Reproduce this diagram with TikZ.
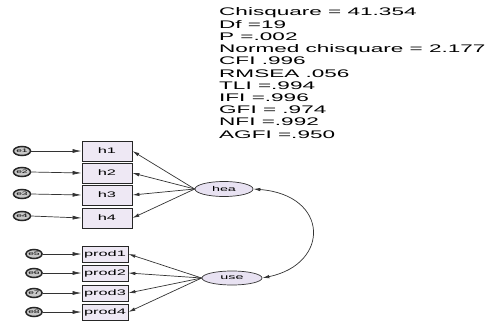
\documentclass[tikz,border=0pt]{standalone}
\usepackage{fontspec}
\setmainfont{Liberation Sans}
\usetikzlibrary{shapes.geometric,arrows.meta}
\definecolor{boxfill}{HTML}{EEE8F4}
\definecolor{ellfill}{HTML}{E8E2F2}
\definecolor{errfill}{HTML}{C8C8C8}
\newcommand\sx[1]{\scalebox{2.05}[1]{#1}}
\tikzset{
  ind/.style={draw=black!85, line width=0.8pt, fill=boxfill, minimum width=50pt, minimum height=20pt, inner sep=0pt, font=\fontsize{8}{8}\selectfont},
  pind/.style={ind, minimum width=46pt, minimum height=16pt},
  lat/.style={ellipse, draw=black!80, line width=0.7pt, fill=ellfill, inner sep=0pt, font=\fontsize{7}{7}\selectfont},
  err/.style={ellipse, draw=black!85, line width=1.5pt, fill=errfill, minimum width=17pt, minimum height=9pt, inner sep=0pt, font=\fontsize{5}{5}\selectfont},
  perr/.style={err, minimum width=14pt},
  earrow/.style={draw=black!80, line width=0.7pt, -{Latex[length=9pt,width=4pt]}},
  larrow/.style={draw=black!80, line width=0.7pt, -{Latex[length=7pt,width=3.5pt]}},
  stat/.style={anchor=base west, inner sep=0pt, font=\fontsize{11}{11}\selectfont}
}
\begin{document}
\begin{tikzpicture}[x=1pt,y=-1pt]
\useasboundingbox (0,0) rectangle (498,324);
% fit statistics
\foreach \t [count=\i from 0] in {Chisquare = 41.354, Df =19, P =.002, Normed chisquare = 2.177, CFI .996, RMSEA .056, TLI =.994, IFI =.996, GFI = .974, NFI =.992, AGFI =.950}
  \node[stat] (s\i) at (219,{16+12.2*\i}) {\sx{\t}};
% latent variables
\node[lat, minimum width=58pt, minimum height=15pt] (hea) at (224,189) {\sx{hea}};
\node[lat, minimum width=60pt, minimum height=14pt] (use) at (232,278) {\sx{use}};
% hea indicators
\node[ind] (h1) at (107,151) {\sx{h1}};
\node[ind] (h2) at (107,173) {\sx{h2}};
\node[ind] (h3) at (107,195) {\sx{h3}};
\node[ind] (h4) at (107,218) {\sx{h4}};
% use indicators
\node[pind] (p1) at (105,254) {\sx{prod1}};
\node[pind] (p2) at (105,273) {\sx{prod2}};
\node[pind] (p3) at (105,293) {\sx{prod3}};
\node[pind] (p4) at (105,312) {\sx{prod4}};
% errors
\node[err] (e1) at (22,151) {\sx{e1}};
\node[err] (e2) at (22,172) {\sx{e2}};
\node[err] (e3) at (22,194) {\sx{e3}};
\node[err] (e4) at (22,216) {\sx{e4}};
\node[perr] (e5) at (34,254) {\sx{e5}};
\node[perr] (e6) at (34,273) {\sx{e6}};
\node[perr] (e7) at (34,293) {\sx{e7}};
\node[perr] (e8) at (34,312) {\sx{e8}};
% error arrows
\foreach \e/\b in {e1/h1,e2/h2,e3/h3,e4/h4,e5/p1,e6/p2,e7/p3,e8/p4}
  \draw[earrow] (\e.east) -- (\b.west);
% loadings
\foreach \b in {h1,h2,h3,h4}
  \draw[larrow] (hea.west) -- (\b.east);
\foreach \b in {p1,p2,p3,p4}
  \draw[larrow] (use.west) -- (\b.east);
% covariance
\draw[draw=black!80, line width=0.7pt, {Latex[length=7pt,width=3.5pt]}-{Latex[length=7pt,width=3.5pt]}]
  (hea.east) .. controls +(76,6) and +(68,-14) .. (use.east);
\end{tikzpicture}
\end{document}
